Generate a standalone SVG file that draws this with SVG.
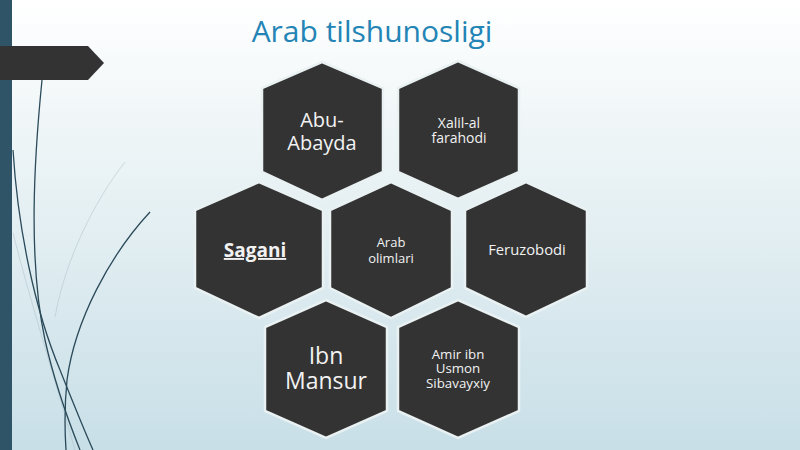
<svg xmlns="http://www.w3.org/2000/svg" width="800" height="450" viewBox="0 0 800 450">
<defs>
<linearGradient id="bg" x1="0" y1="0" x2="0" y2="1">
<stop offset="0" stop-color="#ffffff"/>
<stop offset="0.3" stop-color="#eef5f7"/>
<stop offset="1" stop-color="#c8dfe7"/>
</linearGradient>
<style>
.hex{fill:#333333;stroke:#e9f1f3;stroke-width:2.5}
.t{font-family:"Open Sans","Noto Sans","DejaVu Sans",sans-serif;fill:#f2f2f2;text-anchor:middle}
.cv{fill:none;stroke:#2b4a5a;stroke-width:1.3}
.cvf{fill:none;stroke:#a9bcc4;stroke-width:0.8;opacity:0.6}
</style>
</defs>
<rect width="800" height="450" fill="url(#bg)"/>
<rect x="0" y="0" width="12" height="450" fill="#2f5468"/>
<g id="decor">
<path class="cvf" d="M125,162 C95,200 65,260 55,317"/>
<path class="cvf" d="M13,233 C30,300 55,380 75,450"/>
<path class="cv" d="M42,80 C34,160 28,260 45,340 C55,385 68,420 80,450"/>
<path class="cv" d="M13,150 C18,230 35,310 60,370 C72,400 84,430 93,450"/>
<path class="cv" d="M150,212 C110,255 75,320 67,380 C64,410 65,435 66,450"/>
<polygon points="0,46 88,46 104,63 88,80 0,80" fill="#333333"/>
</g>
<text x="372" y="42" font-family="'Open Sans','Noto Sans',sans-serif" font-size="30" fill="#2384b5" text-anchor="middle">Arab tilshunosligi</text>
<g id="connectors"></g>
<g id="n-abu">
<polygon class="hex" points="322,62 383,88 383,172 322,200 262,172 262,88"/>
<text class="t" x="322" y="127" font-size="20">Abu-</text>
<text class="t" x="322" y="150" font-size="20">Abayda</text>
</g>
<g id="n-xalil">
<polygon class="hex" points="458,61 519,88 519,172 458,199 398,172 398,88"/>
<text class="t" x="459" y="128" font-size="14">Xalil-al</text>
<text class="t" x="459" y="143" font-size="14">farahodi</text>
</g>
<g id="n-sagani">
<polygon class="hex" points="259,182 323,210 323,288 259,318 195,288 195,210"/>
<text class="t" x="255" y="257" font-size="19" font-weight="bold" text-decoration="underline">Sagani</text>
</g>
<g id="n-arab">
<polygon class="hex" points="391,182 452,210 452,288 391,318 330,288 330,210"/>
<text class="t" x="391" y="247" font-size="13">Arab</text>
<text class="t" x="391" y="263" font-size="13">olimlari</text>
</g>
<g id="n-feruzobodi">
<polygon class="hex" points="526,182 587,210 587,288 526,317 465,288 465,210"/>
<text class="t" x="527" y="255" font-size="14.8">Feruzobodi</text>
</g>
<g id="n-ibn">
<polygon class="hex" points="326,300 387,327 387,411 326,438 265,411 265,327"/>
<text class="t" x="326" y="364" font-size="23">Ibn</text>
<text class="t" x="326" y="389" font-size="23">Mansur</text>
</g>
<g id="n-amir">
<polygon class="hex" points="458,300 519,327 519,411 458,438 398,411 398,327"/>
<text class="t" x="458" y="359" font-size="13.3">Amir ibn</text>
<text class="t" x="458" y="373" font-size="13.3">Usmon</text>
<text class="t" x="458" y="388" font-size="13.3">Sibavayxiy</text>
</g>
</svg>
